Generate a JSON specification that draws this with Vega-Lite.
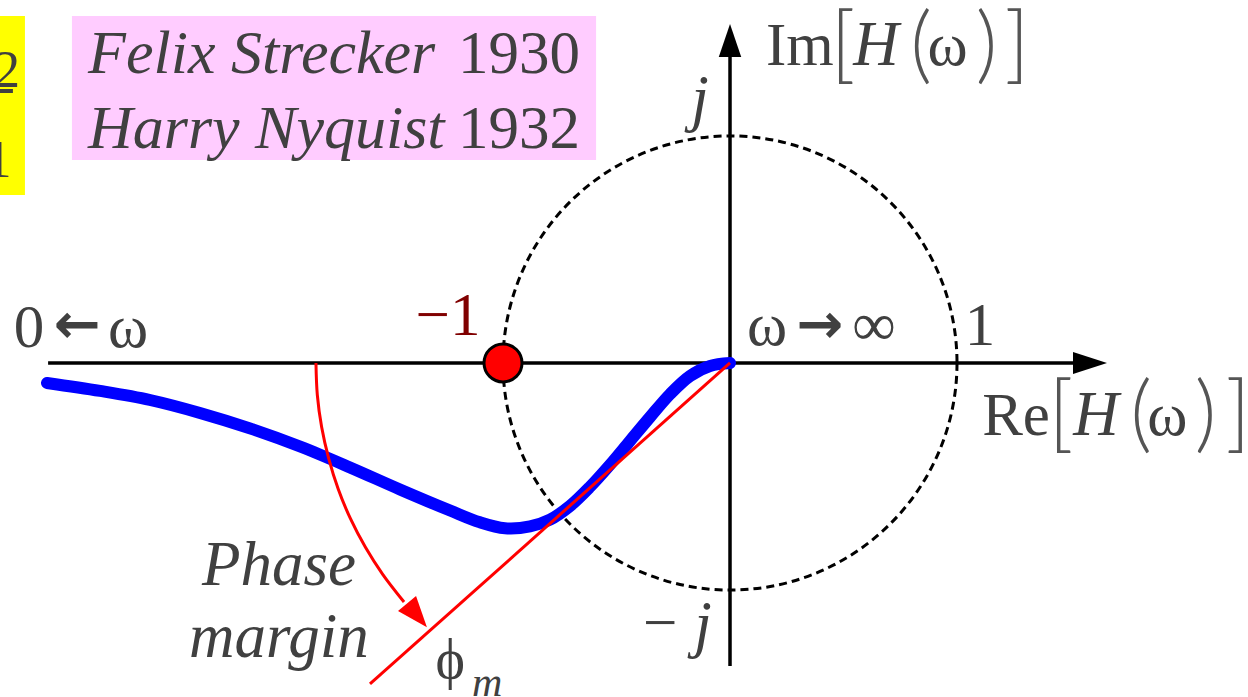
{
  "$schema": "https://vega.github.io/schema/vega-lite/v6.json",
  "width": 1248,
  "height": 697,
  "autosize": {"type": "none"},
  "padding": 0,
  "background": "white",
  "config": {"view": {"stroke": null}},
  "encoding": {
    "x": {"field": "x", "type": "quantitative", "scale": {"domain": [-3.2159, 2.2819], "nice": false, "zero": false}, "axis": null},
    "y": {"field": "y", "type": "quantitative", "scale": {"domain": [-1.4714, 1.5991], "nice": false, "zero": false}, "axis": null}
  },
  "layer": [
    {
      "data": {"values": [{"x": -3.25, "x2": -3.106, "y": 1.529, "y2": 0.74}]},
      "mark": {"type": "rect", "fill": "#ffff00"},
      "encoding": {"x2": {"field": "x2"}, "y2": {"field": "y2"}}
    },
    {
      "data": {"values": [{"x": -2.899, "x2": -0.59, "y": 1.529, "y2": 0.894}]},
      "mark": {"type": "rect", "fill": "#ffccff"},
      "encoding": {"x2": {"field": "x2"}, "y2": {"field": "y2"}}
    },
    {
      "data": {"values": [{"t": "2", "x": -3.185, "y": 1.216}, {"t": "1", "x": -3.222, "y": 0.819}]},
      "mark": {"type": "text", "font": "Liberation Serif", "fontSize": 52, "fill": "#404040", "align": "center", "baseline": "alphabetic"},
      "encoding": {"text": {"field": "t"}}
    },
    {
      "data": {"values": [{"x": -3.3, "x2": -3.159, "y": 1.198}]},
      "mark": {"type": "rule", "stroke": "#404040", "strokeWidth": 4},
      "encoding": {"x2": {"field": "x2"}}
    },
    {
      "data": {"values": [{"t": "Felix Strecker", "x": -2.828, "y": 1.278}, {"t": "Harry Nyquist", "x": -2.828, "y": 0.947}]},
      "mark": {"type": "text", "font": "Liberation Serif", "fontStyle": "italic", "fontSize": 62, "fill": "#404040", "align": "left", "baseline": "alphabetic"},
      "encoding": {"text": {"field": "t"}}
    },
    {
      "data": {"values": [{"t": "1930", "x": -1.198, "y": 1.278}, {"t": "1932", "x": -1.198, "y": 0.947}]},
      "mark": {"type": "text", "font": "Liberation Serif", "fontSize": 61, "fill": "#404040", "align": "left", "baseline": "alphabetic"},
      "encoding": {"text": {"field": "t"}}
    },
    {
      "data": {"values": [{"x": 0, "y": 0}]},
      "mark": {"type": "point", "shape": "circle", "size": 206116, "filled": false, "stroke": "black", "strokeWidth": 3, "strokeDash": [8, 5], "opacity": 1}
    },
    {
      "data": {"values": [{"x": -3.004, "x2": 1.52, "y": 0, "y2": 0}, {"x": 0, "x2": 0, "y": -1.335, "y2": 1.357}]},
      "mark": {"type": "rule", "stroke": "black", "strokeWidth": 3.5},
      "encoding": {"x2": {"field": "x2"}, "y2": {"field": "y2"}}
    },
    {
      "data": {"values": [{"x": 1.586, "y": 0}]},
      "mark": {"type": "point", "shape": "M 1 0 L -1 -0.65 L -1 0.65 Z", "size": 1156, "filled": true, "fill": "black", "opacity": 1}
    },
    {
      "data": {"values": [{"x": 0, "y": 1.421}]},
      "mark": {"type": "point", "shape": "M 0 -1 L 0.68 1 L -0.68 1 Z", "size": 1089, "filled": true, "fill": "black", "opacity": 1}
    },
    {
      "data": {"values": [
        {"x": -3.009, "y": -0.088}, {"x": -2.775, "y": -0.123}, {"x": -2.555, "y": -0.163},
        {"x": -2.335, "y": -0.22}, {"x": -2.115, "y": -0.288}, {"x": -1.894, "y": -0.368},
        {"x": -1.674, "y": -0.46}, {"x": -1.454, "y": -0.557}, {"x": -1.233, "y": -0.65},
        {"x": -1.101, "y": -0.702}, {"x": -0.991, "y": -0.728}, {"x": -0.881, "y": -0.72},
        {"x": -0.793, "y": -0.69}, {"x": -0.705, "y": -0.63}, {"x": -0.617, "y": -0.546},
        {"x": -0.529, "y": -0.449}, {"x": -0.441, "y": -0.344}, {"x": -0.352, "y": -0.238},
        {"x": -0.264, "y": -0.137}, {"x": -0.176, "y": -0.057}, {"x": -0.088, "y": -0.013},
        {"x": 0, "y": 0}
      ]},
      "mark": {"type": "line", "stroke": "#0000ff", "strokeWidth": 12, "strokeCap": "round", "strokeJoin": "round", "interpolate": "catmull-rom"},
      "encoding": {}
    },
    {
      "data": {"values": [
        {"x": -1.824, "y": 0}, {"x": -1.818, "y": -0.141}, {"x": -1.799, "y": -0.282},
        {"x": -1.768, "y": -0.42}, {"x": -1.726, "y": -0.555}, {"x": -1.672, "y": -0.686},
        {"x": -1.606, "y": -0.812}, {"x": -1.53, "y": -0.931}, {"x": -1.436, "y": -1.053}
      ]},
      "mark": {"type": "line", "stroke": "#ff0000", "strokeWidth": 3, "interpolate": "catmull-rom"},
      "encoding": {}
    },
    {
      "data": {"values": [{"x": -1.379, "y": -1.112}]},
      "mark": {"type": "point", "shape": "M 0 -1 L 0.76 1 L -0.76 1 Z", "size": 961, "angle": 140, "filled": true, "fill": "#ff0000", "opacity": 1}
    },
    {
      "data": {"values": [{"x": 0, "y": 0, "x2": -1.586, "y2": -1.414}]},
      "mark": {"type": "rule", "stroke": "#ff0000", "strokeWidth": 3},
      "encoding": {"x2": {"field": "x2"}, "y2": {"field": "y2"}}
    },
    {
      "data": {"values": [{"x": -1, "y": 0}]},
      "mark": {"type": "point", "shape": "circle", "size": 1444, "filled": true, "fill": "#ff0000", "stroke": "black", "strokeWidth": 3, "opacity": 1}
    },
    {
      "data": {"values": [
        {"t": "0", "x": -3.088, "y": 0.07},
        {"t": "ω", "x": -2.652, "y": 0.07},
        {"t": "ω", "x": 0.163, "y": 0.079},
        {"t": "∞", "x": 0.634, "y": 0.079},
        {"t": "1", "x": 1.101, "y": 0.079},
        {"t": "Im", "x": 0.308, "y": 1.313},
        {"t": "ω", "x": 0.958, "y": 1.313},
        {"t": "Re", "x": 1.26, "y": -0.317},
        {"t": "ω", "x": 1.927, "y": -0.317},
        {"t": "−", "x": -0.308, "y": -1.233}
      ]},
      "mark": {"type": "text", "font": "Liberation Serif", "fontSize": 61, "fill": "#404040", "align": "center", "baseline": "alphabetic"},
      "encoding": {"text": {"field": "t"}}
    },
    {
      "data": {"values": [
        {"t": "j", "x": -0.132, "y": 1.075},
        {"t": "j", "x": -0.119, "y": -1.242},
        {"t": "H", "x": 0.643, "y": 1.313},
        {"t": "H", "x": 1.612, "y": -0.317},
        {"t": "Phase", "x": -1.987, "y": -0.978},
        {"t": "margin", "x": -1.987, "y": -1.295}
      ]},
      "mark": {"type": "text", "font": "Liberation Serif", "fontStyle": "italic", "fontSize": 63, "fill": "#404040", "align": "center", "baseline": "alphabetic"},
      "encoding": {"text": {"field": "t"}}
    },
    {
      "data": {"values": [{"t": "←", "x": -2.877, "y": 0.088}, {"t": "→", "x": 0.396, "y": 0.088}]},
      "mark": {"type": "text", "font": "DejaVu Sans", "fontWeight": "bold", "fontSize": 56, "fill": "#404040", "align": "center", "baseline": "alphabetic"},
      "encoding": {"text": {"field": "t"}}
    },
    {
      "data": {"values": [
        {"t": "[", "x": 0.498, "y": 1.279}, {"t": "(", "x": 0.842, "y": 1.279},
        {"t": ")", "x": 1.13, "y": 1.279}, {"t": "]", "x": 1.264, "y": 1.279},
        {"t": "[", "x": 1.458, "y": -0.346}, {"t": "(", "x": 1.811, "y": -0.346},
        {"t": ")", "x": 2.095, "y": -0.346}, {"t": "]", "x": 2.238, "y": -0.346}
      ]},
      "mark": {"type": "text", "font": "Lato", "fontWeight": 300, "fontSize": 84, "fill": "#555555", "align": "center", "baseline": "alphabetic"},
      "encoding": {"text": {"field": "t"}}
    },
    {
      "data": {"values": [{"t": "−1", "x": -1.242, "y": 0.123}]},
      "mark": {"type": "text", "font": "Liberation Serif", "fontSize": 61, "fill": "#800000", "align": "center", "baseline": "alphabetic"},
      "encoding": {"text": {"field": "t"}}
    },
    {
      "data": {"values": [{"t": "ϕ", "x": -1.233, "y": -1.388}]},
      "mark": {"type": "text", "font": "Liberation Serif", "fontSize": 56, "fill": "#404040", "align": "center", "baseline": "alphabetic"},
      "encoding": {"text": {"field": "t"}}
    },
    {
      "data": {"values": [{"t": "m", "x": -1.07, "y": -1.467}]},
      "mark": {"type": "text", "font": "Liberation Serif", "fontStyle": "italic", "fontSize": 42, "fill": "#404040", "align": "center", "baseline": "alphabetic"},
      "encoding": {"text": {"field": "t"}}
    }
  ]
}
